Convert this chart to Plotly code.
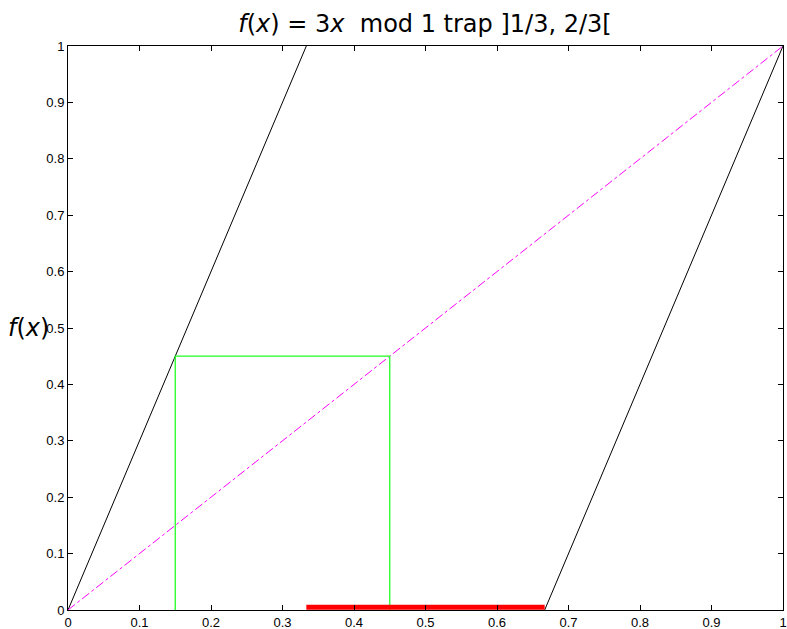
import plotly.graph_objects as go

# data
branch1_x = [0, 1/3]
branch1_y = [0, 1]
branch3_x = [2/3, 1]
branch3_y = [0, 1]
diag_x = [0, 1]
diag_y = [0, 1]
cobweb_x = [0.15, 0.15, 0.45, 0.45]
cobweb_y = [0, 0.45, 0.45, 0]
trap_x = [1/3, 2/3]
trap_y = [0.005, 0.005]
tick_vals = [0, 0.1, 0.2, 0.3, 0.4, 0.5, 0.6, 0.7, 0.8, 0.9, 1]
tick_text = ["0", "0.1", "0.2", "0.3", "0.4", "0.5", "0.6", "0.7", "0.8", "0.9", "1"]

fig = go.Figure()
fig.add_trace(go.Scatter(x=branch1_x, y=branch1_y, mode="lines",
                         line=dict(color="black", width=1)))
fig.add_trace(go.Scatter(x=branch3_x, y=branch3_y, mode="lines",
                         line=dict(color="black", width=1)))
fig.add_trace(go.Scatter(x=diag_x, y=diag_y, mode="lines",
                         line=dict(color="#FF00FF", width=1, dash="dashdot")))
fig.add_trace(go.Scatter(x=cobweb_x, y=cobweb_y, mode="lines",
                         line=dict(color="#22FF22", width=1.3)))
fig.add_trace(go.Scatter(x=trap_x, y=trap_y, mode="lines",
                         line=dict(color="#FF0000", width=5)))

axis_common = dict(
    range=[0, 1], tickmode="array", tickvals=tick_vals, ticktext=tick_text,
    ticks="inside", ticklen=5, tickcolor="black", tickwidth=1,
    showgrid=False, zeroline=False, showline=True, linecolor="black",
    linewidth=1, mirror="ticks", automargin=False,
    tickfont=dict(family="Liberation Sans, Arial, sans-serif", size=13, color="black"),
)
fig.update_xaxes(**axis_common)
fig.update_yaxes(**axis_common)

fig.update_layout(
    width=787, height=629,
    margin=dict(l=68, r=4, t=46, b=19),
    plot_bgcolor="white", paper_bgcolor="white",
    showlegend=False,
    title=dict(
        text="<i>f</i>(<i>x</i>) = 3<i>x</i>  mod 1 trap ]1/3, 2/3[",
        x=0.54, xanchor="center", y=0.962, yanchor="middle",
        font=dict(family="DejaVu Sans, sans-serif", size=24, color="black"),
    ),
    annotations=[dict(
        text="<i>f</i>(<i>x</i>)", xref="paper", yref="paper",
        x=-0.087, y=0.50, xanchor="left", yanchor="middle", showarrow=False,
        font=dict(family="DejaVu Sans, sans-serif", size=24, color="black"),
    )],
)

fig.write_html("out.html", config={"displayModeBar": False},
               post_script="document.body.style.margin='0';document.body.style.overflow='hidden';")
